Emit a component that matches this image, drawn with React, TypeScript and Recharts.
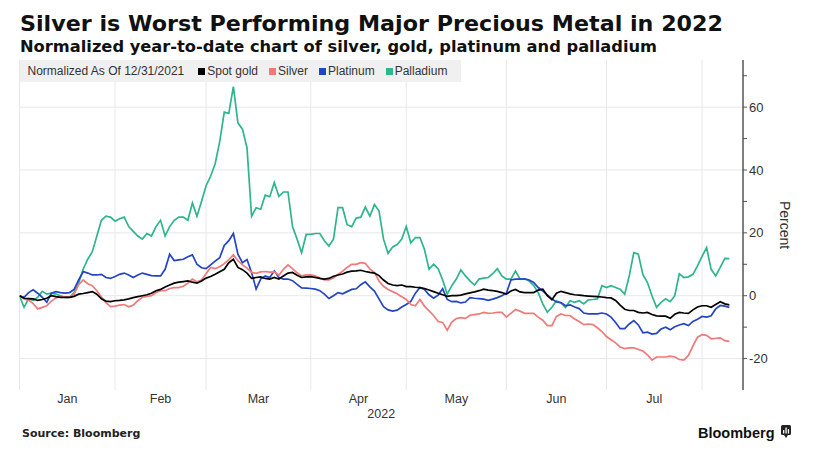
import React from 'react';
import { LineChart, Line, XAxis, YAxis, CartesianGrid, Label } from 'recharts';

// x axis counts weekdays from Jan 1, 2022; values are percent change vs 12/31/2021
const monthNames = ['Jan', 'Feb', 'Mar', 'Apr', 'May', 'Jun', 'Jul'];
const monthStarts = [0, 21, 41, 64, 85, 107, 129, 150];
const yTicks = [-20, -10, 0, 10, 20, 30, 40, 50, 60, 70];
const yGrid = [-20, 0, 20, 40, 60];

const spotGold = [
  0, -0.8, -0.9, -1, -1.5, -1.2, -0.8, 0, -0.3, -0.5, -0.5,
  -0.5, -0.2, 0.5, 0.7, 1, 1.3, 0.5, -1, -1.7, -1.9,
  -1.6, -1.5, -1.3, -1, -0.6, -0.3, 0, 0.3, 0.8, 1.6,
  2, 2.8, 3.4, 4, 4.3, 4.5, 4.7, 4.3, 4, 4.7,
  5.6, 6.1, 6.8, 7.6, 8.4, 10.5, 11.6, 9, 8.3, 7.2,
  5.5, 5.8, 6, 5.5, 5.3, 5.8, 5.3, 6.3, 7.2, 7.4,
  6.5, 5.8, 6, 6.1, 5.8, 5.5, 5.3, 5.5, 6.2, 6.6,
  6.9, 7.5, 7.8, 7.9, 8.1, 7.7, 7.4, 7.2, 6.4, 5,
  3.9, 3.4, 3.2, 3.4, 2.9, 2.9, 2.7, 2.6, 2.3, 1.8,
  1.3, 0.8, 0.3, -0.2, 0, 0, 0.2, 0.6, 0.9, 1.2,
  1.6, 2.1, 1.8, 1.6, 1.4, 1, 0.5, 1.5, 2, 1.2,
  1, 1, 1, 1.8, 2.1, 0, -1.3, 0.8, 1.4, 1,
  0.6, 0.3, 0.2, 0, -0.1, -0.2, -0.3, -0.4, -0.6, -0.7,
  -1.5, -3, -4.3, -4.7, -4.7, -5.3, -5.5, -5.3, -6, -6.4,
  -6.5, -6.5, -7.2, -5.9, -5.3, -5.5, -5.6, -4.5, -3.6, -3.2,
  -3.2, -3.7, -2.8, -1.9, -2.6, -2.9,
];

const silver = [
  0, -1, -1.4, -2.5, -4.2, -3.7, -3.2, -1.7, -0.7, -0.2, -0.4,
  -0.4, 0.5, 3.5, 5, 3.8, 3.2, 1.6, -0.4, -2.2, -3.5,
  -3.3, -3, -2.8, -3.5, -3, -1.6, -0.5, -0.2, 0, 1,
  1.6, 1.6, 2.3, 2.6, 2.6, 3, 4, 5.3, 4.4, 5,
  7, 9, 8.6, 9.2, 10.2, 11.5, 13, 11.2, 9.8, 8.8,
  7.4, 7.1, 7.6, 7.7, 7.5, 7.6, 6.5, 8.4, 9.8, 8.6,
  7.3, 6.3, 6.6, 6.6, 6.3, 5.6, 5, 5, 5.6, 6.8,
  7.8, 9, 10, 10, 10.5, 10.3, 8.5, 7.4, 4.7, 3,
  2, 1.3, 0.6, -0.3, -1.2, -2.8, -3.2, -1.2, -3.3, -4.8,
  -6.3, -8.2, -8.5, -11, -8.4, -7.3, -7, -7.2, -6.2, -6,
  -5.8, -5.3, -5.6, -5.5, -5.3, -5.3, -6.8, -5.6, -4.4, -4.9,
  -5.6, -5.6, -5.6, -6.8, -7.8, -9.5, -9.5, -6.6, -5.8, -6.3,
  -6.3, -7.4, -8.2, -9.2, -9, -9.2, -10.2, -11.4, -13, -14,
  -15, -16.3, -16.8, -16.6, -16.6, -17.1, -17.6, -18.8, -20.5, -19.5,
  -19.5, -19.5, -19.2, -19.5, -20.3, -20.5, -19, -16, -13.2, -12.4,
  -12.6, -13.7, -13.6, -13.4, -14.3, -14.5,
];

const platinum = [
  0, -0.5, 1, 1.9, 0.8, -0.5, -2.1, 0.8, 1.3, 1, 0.8,
  1, 2, 5, 7.7, 7.2, 6.6, 6.6, 6.8, 5.8, 5.5,
  6.1, 6.8, 7.2, 6.6, 5.8, 6.6, 7.2, 6.8, 6.4, 6.3,
  6.3, 8.4, 13.2, 11.2, 11.4, 11.6, 12.4, 13, 10, 8.9,
  8.6, 9.8, 11, 12.1, 16, 17.5, 19.8, 13.2, 10.5, 11.5,
  7.4, 2.1, 5.3, 6.3, 5.8, 7.9, 5.8, 5.3, 5.3, 4.8,
  3.6, 2.5, 2.4, 2.3, 2.1, 1.6, 0.5, -0.9, 0, 1,
  0.6, 1.3, 2, 2.2, 3.5, 4.4, 2.8, 1.5, -1, -3.5,
  -4.5, -4.9, -4.6, -3.6, -2.8, -1.8, 0.8, 2.6, 2, 0.3,
  -0.8, 0.2, 2.2, -1.2, -1.9, -1.8, -2.3, -2, -0.6, -0.8,
  -0.9, -1.1, -1.5, -1.1, -0.6, 0, 0.8, 5, 5.3, 5.3,
  5.4, 5, 4.2, 2.6, 1.5, 0.3, -1, -2, -2.2, -3.2,
  -2.9, -3.6, -4.1, -5.5, -5.8, -5.8, -5.8, -5.5, -5.8, -6.8,
  -8.5, -10.5, -10.5, -9, -7.9, -9.3, -11.8, -11.6, -12.2, -12,
  -10.6, -10, -10.8, -9.9, -9.3, -8.9, -9.5, -8.2, -7.5, -6.6,
  -6.8, -6.4, -4.2, -3.1, -3.3, -3.7,
];

const palladium = [
  0, -3.7, -1, -1.5, -0.5, 1.4, 0.5, 0.8, 0.5, 0, -0.5,
  -0.5, 1, 4, 8.5, 11.6, 14, 19, 24, 25.3, 25,
  23.7, 24.5, 25, 22, 20.5, 19, 18, 19.8, 19, 22,
  24, 19, 22, 24, 25, 25, 24, 29.5, 25.3, 30,
  35, 38, 42, 49, 58.4, 58, 66.5, 55, 53, 47,
  25.3, 28, 27.5, 32, 31.5, 36, 31.6, 33, 33, 22,
  18, 13.7, 19.5, 19.5, 19.8, 19.8, 17.5, 15.8, 18, 28,
  28, 22.6, 22, 24.7, 25, 28.2, 25.3, 29, 27, 18,
  13.5, 15.5, 16.3, 18, 22, 16.8, 18.5, 18.5, 14.7, 8.4,
  10, 8.6, 5, 0.5, 3.2, 5.3, 8.2, 6.3, 4.7, 3.4,
  5.3, 5.6, 5.8, 7, 8.6, 6.3, 5.3, 5.3, 7.9, 5.3,
  5.3, 4.7, 3.2, 1, -2.6, -5.3, -3.7, -1.6, -2.3, -3.7,
  -1.6, -2.1, -1.6, -2.6, -1.3, -1.2, -1, 3.2, 2.6, 3.2,
  2.6, 2.1, 0.5, 6.3, 13.7, 13.2, 6.8, 4.2, 0, -3.7,
  -2.1, -1, -1.9, 0, 7, 5.8, 6, 6.8, 9.5, 12.5,
  15.3, 8.4, 6.3, 9, 11.9, 11.8,
];

const series = [
  { key: 'gold', name: 'Spot gold', color: '#000000', values: spotGold },
  { key: 'silver', name: 'Silver', color: '#f07a7a', values: silver },
  { key: 'platinum', name: 'Platinum', color: '#2444c4', values: platinum },
  { key: 'palladium', name: 'Palladium', color: '#2db58c', values: palladium },
];

const rows = spotGold.map((_, i) => {
  const row: Record<string, number> = { day: i };
  series.forEach((s) => { row[s.key] = s.values[i]; });
  return row;
});

const monthMids = monthNames.map((_, i) => (monthStarts[i] + monthStarts[i + 1]) / 2);

const LegendBar = () => (
  <div style={{
    position: 'absolute', left: 19.5, top: 60, background: '#f0f0f0', height: 22, width: 441,
    display: 'flex', alignItems: 'center', fontSize: 12, color: '#333', paddingLeft: 8,
    boxSizing: 'border-box', whiteSpace: 'nowrap',
  }}>
    <span style={{ marginRight: 14 }}>Normalized As Of 12/31/2021</span>
    {series.map((s) => (
      <span key={s.key} style={{ display: 'flex', alignItems: 'center', marginRight: 11 }}>
        <span style={{ width: 7, height: 7, background: s.color, marginRight: 2, display: 'inline-block' }} />
        {s.name}
      </span>
    ))}
  </div>
);

export default function App() {
  const font = '"DejaVu Sans", Verdana, sans-serif';
  return (
    <div style={{
      position: 'absolute', left: 0, top: 0, width: 820, height: 461, background: '#fff',
      fontFamily: '"Liberation Sans", Arial, sans-serif', overflow: 'hidden',
    }}>
      <LineChart width={820} height={461} data={rows} margin={{ top: 60, right: 37, left: 19.5, bottom: 41 }}>
        <CartesianGrid stroke="#e8e8e8" horizontalValues={yGrid} verticalValues={monthStarts} />
        <XAxis
          dataKey="day"
          type="number"
          domain={[0, 159]}
          ticks={monthMids}
          tickFormatter={(v: number) => monthNames[monthMids.indexOf(v)] ?? ''}
          axisLine={false}
          tickLine={false}
          tickSize={0}
          tickMargin={4}
          height={30}
          tick={{ fill: '#333', fontSize: 12.5 }}
          allowDataOverflow
        >
          <Label value="2022" position="insideBottom" offset={2} style={{ fill: '#333', fontSize: 12.5 }} />
        </XAxis>
        <YAxis
          orientation="right"
          domain={[-30, 75]}
          ticks={yTicks}
          tickFormatter={(v: number) => (v % 20 === 0 ? String(v) : '')}
          axisLine={{ stroke: '#555', strokeWidth: 1.5 }}
          tickLine={{ stroke: '#555' }}
          tickSize={4}
          tickMargin={2}
          width={40}
          tick={{ fill: '#333', fontSize: 13 }}
          allowDataOverflow
        />
        {[...series].reverse().map((s) => (
          <Line
            key={s.key}
            dataKey={s.key}
            name={s.name}
            type="linear"
            stroke={s.color}
            strokeWidth={1.7}
            dot={false}
            isAnimationActive={false}
          />
        ))}
      </LineChart>
      <LegendBar />
      <svg width={820} height={461} style={{ position: 'absolute', left: 0, top: 0, pointerEvents: 'none' }}>
        <text x={20} y={31} fontFamily={font} fontWeight="bold" fontSize={22} fill="#111"
          textLength={703} lengthAdjust="spacingAndGlyphs">
          Silver is Worst Performing Major Precious Metal in 2022
        </text>
        <text x={20} y={51.5} fontFamily={font} fontWeight="bold" fontSize={15.5} fill="#111"
          textLength={637} lengthAdjust="spacingAndGlyphs">
          Normalized year-to-date chart of silver, gold, platinum and palladium
        </text>
        <text x={785} y={225} fontSize={14} fill="#333" textAnchor="middle" dominantBaseline="central"
          transform="rotate(90, 785, 225)">
          Percent
        </text>
        <text x={22} y={437} fontFamily={font} fontWeight="bold" fontSize={11} fill="#222">
          Source: Bloomberg
        </text>
        <text x={698} y={438} fontWeight="bold" fontSize={14.5} fill="#111">Bloomberg</text>
        {/* logo badge */}
        <rect x={781} y={425} width={10} height={10} rx={1.5} fill="#222" />
        <path d="M784 435 L786 438 L788 435 Z" fill="#222" />
        <rect x={783} y={430} width={1.3} height={3.5} fill="#fff" />
        <rect x={785.4} y={427.5} width={1.3} height={6} fill="#fff" />
        <rect x={787.8} y={429} width={1.3} height={4.5} fill="#fff" />
      </svg>
    </div>
  );
}
